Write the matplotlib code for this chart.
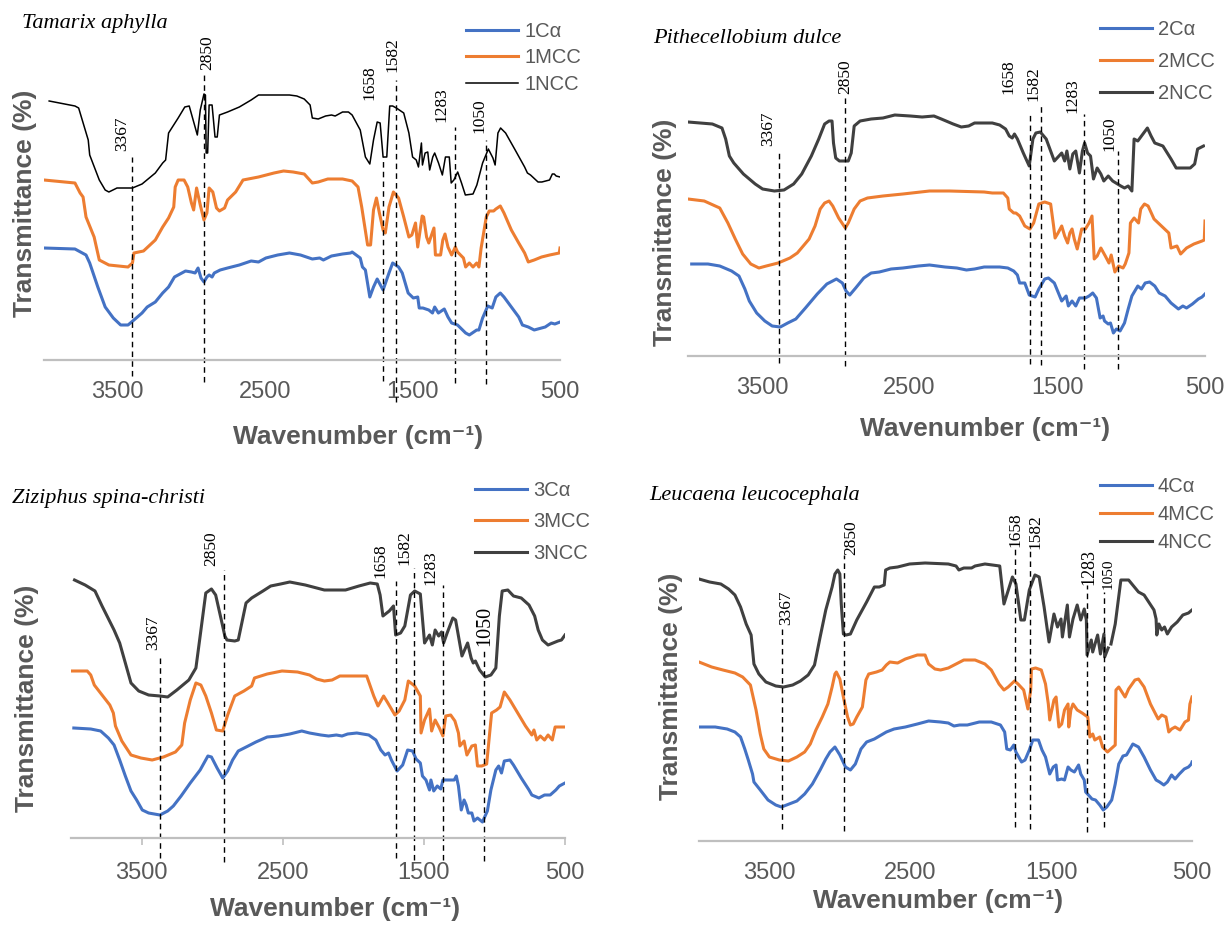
import numpy as np
import matplotlib.pyplot as plt

# =========================
# FTIR spectra of four plant sources: Cα, MCC and NCC
# =========================

W, H = 1227, 925
BLUE, ORANGE, DARK = '#4472C4', '#ED7D31', '#404040'
GREY_TXT, GREY_AX = '#595959', '#BFBFBF'

titles = ['Tamarix aphylla', 'Pithecellobium dulce',
          'Ziziphus spina-christi', 'Leucaena leucocephala']
series_names = [['1Cα', '1MCC', '1NCC'], ['2Cα', '2MCC', '2NCC'],
                ['3Cα', '3MCC', '3NCC'], ['4Cα', '4MCC', '4NCC']]
peak_labels = ['3367', '2850', '1658', '1582', '1283', '1050']
x_ticks = [3500, 2500, 1500, 500]

# ---- Panel 1: Tamarix aphylla (transmittance, arbitrary offset units)
p1_ca_wn = [4000, 3790, 3715, 3690, 3635, 3585, 3530, 3480, 3430, 3390, 3335, 3300, 3245, 3195, 3155,
            3115, 3040, 3000, 2975, 2955, 2935, 2915, 2895, 2880, 2860, 2845, 2805, 2755, 2675, 2595,
            2545, 2495, 2415, 2335, 2260, 2180, 2130, 2105, 2050, 1975, 1920, 1910, 1855, 1840, 1820,
            1790, 1765, 1740, 1700, 1660, 1635, 1595, 1570, 1530, 1495, 1465, 1455, 1430, 1390, 1365,
            1350, 1325, 1285, 1260, 1235, 1195, 1140, 1115, 1065, 1050, 1025, 990, 960, 935, 905, 880,
            830, 780, 755, 715, 675, 625, 600, 560, 535, 500]
p1_ca_t = [112, 111, 105, 97, 73, 53, 42, 35, 35, 40, 47, 53, 58, 67, 73,
           83, 89, 88, 87, 92, 82, 78, 83, 85, 83, 87, 90, 92, 95, 99,
           98, 102, 105, 107, 105, 101, 102, 100, 104, 106, 107, 108, 102, 93, 90,
           63, 73, 81, 70, 87, 97, 93, 87, 67, 62, 63, 52, 52, 50, 47,
           53, 47, 51, 43, 37, 35, 27, 25, 30, 30, 42, 54, 52, 63, 67, 63,
           53, 43, 35, 33, 30, 32, 33, 37, 36, 38]
p1_mcc_wn = [4000, 3790, 3755, 3735, 3715, 3660, 3625, 3560, 3430, 3400, 3390, 3325, 3245, 3195, 3155,
             3120, 3110, 3090, 3050, 3025, 3000, 2985, 2965, 2940, 2915, 2895, 2880, 2855, 2830, 2810,
             2775, 2755, 2700, 2650, 2545, 2440, 2375, 2310, 2235, 2180, 2140, 2075, 1975, 1910, 1870,
             1845, 1805, 1785, 1765, 1745, 1725, 1700, 1685, 1660, 1630, 1595, 1560, 1525, 1505, 1480,
             1465, 1435, 1425, 1405, 1390, 1355, 1345, 1310, 1295, 1280, 1260, 1235, 1210, 1195, 1155,
             1140, 1115, 1090, 1065, 1050, 1035, 1000, 980, 950, 935, 905, 880, 830, 780, 740, 715,
             675, 625, 570, 505, 500]
p1_mcc_t = [180, 177, 167, 163, 143, 123, 100, 95, 93, 97, 107, 109, 120, 133, 142,
            153, 173, 180, 180, 173, 157, 150, 172, 155, 140, 147, 172, 168, 152, 149,
            152, 160, 168, 180, 183, 187, 189, 188, 186, 177, 178, 181, 181, 179, 173,
            153, 115, 115, 150, 162, 147, 130, 127, 153, 168, 162, 143, 123, 125, 137,
            113, 144, 143, 123, 117, 132, 105, 105, 120, 126, 113, 105, 113, 108, 102,
            93, 97, 93, 97, 93, 112, 143, 149, 149, 151, 154, 147, 130, 117, 107, 98,
            100, 103, 105, 107, 112]
p1_ncc_wn = [3965, 3790, 3765, 3700, 3690, 3625, 3585, 3560, 3505, 3400, 3335, 3245, 3195, 3175, 3155,
             3090, 3045, 3015, 2960, 2940, 2915, 2905, 2900, 2890, 2880, 2860, 2840, 2825, 2810, 2755,
             2675, 2595, 2545, 2495, 2335, 2285, 2235, 2195, 2180, 2140, 2090, 2050, 2025, 1975, 1935,
             1910, 1855, 1820, 1790, 1765, 1740, 1720, 1700, 1675, 1655, 1635, 1610, 1560, 1525, 1500,
             1475, 1460, 1440, 1433, 1415, 1397, 1384, 1363, 1350, 1324, 1298, 1277, 1251, 1238, 1220,
             1194, 1168, 1142, 1090, 1064, 1025, 986, 955, 940, 921, 903, 869, 804, 740, 721, 700,
             649, 623, 571, 552, 539, 526, 500]
p1_ncc_t = [259, 254, 252, 220, 205, 180, 170, 168, 172, 172, 176, 187, 197, 200, 227,
            242, 253, 254, 225, 250, 266, 265, 207, 207, 255, 255, 223, 223, 245, 248,
            253, 260, 265, 265, 265, 264, 261, 255, 242, 241, 244, 245, 244, 248, 248,
            245, 230, 203, 196, 220, 238, 237, 203, 203, 254, 254, 252, 247, 227, 203,
            200, 193, 217, 195, 207, 208, 190, 203, 207, 197, 185, 203, 203, 177, 180,
            188, 177, 165, 166, 175, 197, 211, 202, 195, 227, 232, 227, 210, 193, 187, 185,
            178, 178, 180, 186, 186, 184, 183]

# ---- Panel 2: Pithecellobium dulce
p2_ca_wn = [3975, 3865, 3785, 3705, 3655, 3615, 3585, 3535, 3480, 3430, 3375, 3325, 3270, 3205, 3125,
            3060, 2995, 2955, 2930, 2905, 2865, 2810, 2760, 2705, 2625, 2545, 2440, 2365, 2260, 2180,
            2115, 2060, 1995, 1890, 1835, 1795, 1770, 1755, 1720, 1690, 1650, 1625, 1585, 1560, 1520,
            1495, 1470, 1440, 1425, 1400, 1375, 1350, 1310, 1285, 1260, 1235, 1210, 1190, 1180, 1155,
            1140, 1120, 1100, 1075, 1045, 1020, 995, 955, 930, 905, 875, 840, 810, 770, 730, 705,
            680, 650, 625, 585, 545, 520, 500]
p2_ca_t = [92, 92, 90, 85, 80, 67, 55, 43, 35, 30, 29, 33, 37, 48, 62,
           72, 77, 73, 65, 61, 68, 78, 83, 84, 87, 88, 90, 91, 89, 88,
           86, 87, 89, 89, 88, 85, 81, 73, 73, 61, 59, 67, 77, 78, 73,
           64, 55, 60, 50, 55, 50, 58, 58, 60, 63, 58, 38, 40, 35, 32,
           33, 23, 27, 25, 33, 47, 60, 70, 67, 73, 74, 70, 63, 60, 53, 50,
           47, 50, 48, 52, 57, 59, 62]
p2_mcc_wn = [4000, 3890, 3785, 3730, 3680, 3630, 3575, 3520, 3470, 3390, 3310, 3260, 3220, 3180, 3140,
             3105, 3075, 3045, 3020, 2980, 2935, 2915, 2875, 2835, 2785, 2680, 2545, 2365, 2230, 1995,
             1940, 1865, 1835, 1825, 1795, 1780, 1755, 1720, 1685, 1660, 1625, 1585, 1545, 1525, 1515,
             1495, 1470, 1450, 1430, 1415, 1400, 1385, 1365, 1335, 1310, 1285, 1265, 1250, 1230, 1205,
             1175, 1150, 1135, 1110, 1085, 1055, 1040, 1015, 1005, 980, 950, 935, 910, 885, 845, 795,
             745, 730, 690, 665, 625, 575, 520, 505, 500]
p2_mcc_t = [157, 155, 148, 133, 117, 102, 92, 88, 90, 93, 98, 103, 110, 117, 130,
            147, 153, 155, 150, 138, 128, 133, 147, 155, 158, 160, 162, 165, 165, 164,
            163, 163, 158, 147, 143, 143, 140, 130, 127, 133, 152, 154, 152, 130, 118,
            123, 130, 120, 113, 123, 127, 117, 107, 127, 127, 133, 140, 97, 100, 108,
            100, 93, 101, 84, 90, 88, 92, 103, 133, 138, 133, 147, 152, 150, 137, 130,
            123, 108, 110, 102, 108, 112, 115, 116, 135]
p2_ncc_wn = [4000, 3835, 3770, 3745, 3720, 3690, 3625, 3545, 3495, 3415, 3350, 3285, 3230, 3165, 3115,
             3075, 3045, 3025, 3015, 3000, 2975, 2915, 2895, 2875, 2835, 2760, 2680, 2600, 2495, 2415,
             2335, 2285, 2205, 2150, 2100, 2060, 1940, 1890, 1850, 1825, 1805, 1790, 1770, 1730, 1690,
             1665, 1645, 1615, 1575, 1520, 1470, 1450, 1435, 1415, 1395, 1375, 1350, 1330, 1315, 1295,
             1275, 1255, 1230, 1205, 1185, 1155, 1125, 1070, 1045, 1020, 995, 980, 955, 930, 890, 865,
             840, 785, 730, 695, 600, 570, 550, 510]
p2_ncc_t = [234, 232, 228, 217, 200, 193, 182, 172, 167, 165, 166, 172, 182, 200, 217,
            232, 235, 235, 213, 198, 195, 195, 203, 230, 235, 237, 238, 241, 240, 239,
            240, 237, 232, 229, 230, 233, 233, 231, 227, 220, 218, 222, 217, 203, 190,
            217, 223, 224, 217, 195, 203, 195, 205, 187, 202, 205, 183, 205, 213, 203,
            200, 177, 188, 182, 175, 180, 175, 170, 168, 170, 165, 217, 215, 220, 228, 220,
            213, 210, 197, 188, 188, 192, 207, 210]

# ---- Panel 3: Ziziphus spina-christi
p3_ca_wn = [3980, 3860, 3790, 3735, 3695, 3655, 3615, 3575, 3535, 3495, 3450, 3370, 3315, 3275, 3220,
            3155, 3085, 3030, 3005, 2965, 2925, 2890, 2855, 2815, 2745, 2690, 2610, 2530, 2450, 2365,
            2310, 2230, 2175, 2120, 2080, 2040, 1975, 1890, 1840, 1805, 1775, 1750, 1730, 1690, 1650,
            1615, 1580, 1555, 1525, 1510, 1485, 1460, 1450, 1430, 1405, 1380, 1365, 1325, 1285, 1270,
            1255, 1235, 1215, 1200, 1185, 1160, 1145, 1120, 1085, 1050, 1025, 990, 970, 950, 930, 890,
            865, 810, 755, 735, 685, 645, 605, 565, 540, 500]
p3_ca_t = [110, 109, 107, 100, 93, 78, 62, 47, 38, 28, 25, 23, 27, 32, 42,
           55, 68, 82, 81, 70, 60, 67, 78, 87, 92, 96, 101, 102, 104, 107,
           105, 103, 102, 103, 102, 104, 105, 103, 98, 88, 83, 85, 78, 67, 73,
           88, 87, 79, 75, 62, 58, 48, 58, 47, 52, 49, 58, 58, 58, 62,
           52, 28, 38, 33, 25, 25, 17, 20, 16, 27, 48, 68, 72, 65, 77, 78,
           73, 60, 48, 43, 40, 43, 43, 48, 52, 55]
p3_mcc_wn = [4000, 3885, 3860, 3835, 3780, 3725, 3700, 3685, 3640, 3575, 3505, 3425, 3345, 3260, 3215,
             3195, 3155, 3115, 3080, 3045, 3005, 2970, 2925, 2890, 2840, 2775, 2720, 2700, 2610, 2505,
             2395, 2310, 2260, 2205, 2150, 2095, 1905, 1880, 1855, 1825, 1785, 1755, 1705, 1675, 1635,
             1610, 1565, 1525, 1520, 1495, 1460, 1445, 1420, 1390, 1365, 1345, 1310, 1280, 1255, 1245,
             1215, 1195, 1160, 1135, 1120, 1090, 1055, 1020, 985, 960, 930, 890, 835, 780, 735, 720,
             700, 675, 645, 620, 590, 570, 500]
p3_mcc_t = [167, 167, 163, 153, 143, 133, 125, 112, 97, 83, 80, 78, 81, 86, 93,
            115, 138, 155, 153, 142, 125, 108, 107, 123, 142, 147, 152, 160, 164, 167,
            166, 163, 159, 157, 158, 162, 162, 152, 142, 132, 142, 135, 123, 127, 138,
            157, 152, 142, 105, 118, 129, 107, 118, 110, 102, 122, 123, 117, 105, 92,
            97, 83, 92, 93, 72, 72, 74, 125, 128, 131, 146, 138, 125, 112, 103, 108,
            98, 102, 98, 103, 98, 111, 111]
p3_ncc_wn = [3975, 3900, 3830, 3780, 3695, 3655, 3615, 3575, 3520, 3450, 3370, 3315, 3250, 3165, 3115,
             3085, 3045, 3005, 2975, 2935, 2910, 2895, 2840, 2815, 2760, 2720, 2640, 2585, 2515, 2450,
             2340, 2205, 2055, 1960, 1880, 1830, 1810, 1790, 1745, 1715, 1700, 1665, 1635, 1595, 1565,
             1525, 1495, 1460, 1440, 1420, 1395, 1375, 1360, 1335, 1295, 1275, 1255, 1230, 1190, 1165,
             1150, 1135, 1105, 1065, 1025, 990, 965, 945, 905, 865, 810, 755, 715, 690, 660, 620,
             585, 550, 525, 500]
p3_ncc_t = [258, 253, 247, 232, 208, 195, 175, 155, 147, 143, 142, 141, 148, 158, 170,
            202, 245, 249, 243, 218, 202, 198, 197, 198, 235, 240, 247, 252, 254, 256,
            253, 248, 248, 252, 255, 254, 243, 222, 227, 232, 203, 205, 212, 243, 247,
            244, 195, 203, 193, 208, 202, 206, 195, 205, 220, 218, 202, 182, 195, 180,
            175, 177, 168, 161, 163, 170, 222, 247, 248, 242, 240, 233, 222, 208, 198, 193,
            195, 197, 198, 203]

# ---- Panel 4: Leucaena leucocephala
p4_ca_wn = [4000, 3885, 3800, 3745, 3705, 3675, 3650, 3620, 3610, 3565, 3510, 3455, 3415, 3360, 3305,
            3250, 3195, 3140, 3100, 3070, 3035, 3000, 2960, 2925, 2890, 2850, 2810, 2755, 2670, 2615,
            2535, 2450, 2370, 2285, 2230, 2190, 2150, 2095, 2010, 1925, 1860, 1830, 1815, 1790, 1765,
            1750, 1710, 1685, 1655, 1630, 1590, 1565, 1540, 1510, 1485, 1465, 1455, 1425, 1405, 1380,
            1360, 1335, 1305, 1290, 1265, 1255, 1235, 1210, 1185, 1155, 1130, 1105, 1070, 1045, 1020,
            990, 965, 940, 920, 880, 840, 795, 755, 730, 700, 675, 645, 620, 590, 555, 525, 505, 500]
p4_ca_t = [114, 114, 112, 109, 104, 92, 81, 67, 59, 51, 41, 36, 34, 37, 40,
           47, 57, 71, 82, 89, 94, 86, 74, 71, 77, 92, 99, 102, 109, 112,
           114, 117, 120, 119, 118, 115, 116, 116, 119, 119, 116, 109, 92, 91, 96,
           89, 79, 81, 91, 101, 101, 91, 84, 67, 74, 76, 61, 62, 61, 74,
           71, 69, 76, 67, 61, 49, 46, 42, 41, 36, 31, 34, 41, 57, 77,
           85, 86, 92, 97, 94, 84, 71, 61, 59, 56, 59, 66, 62, 67, 72, 74, 77, 79]
p4_mcc_wn = [4000, 3910, 3830, 3745, 3690, 3635, 3595, 3565, 3540, 3500, 3430, 3365, 3305, 3250, 3210,
             3170, 3125, 3085, 3055, 3035, 3025, 3000, 2975, 2945, 2925, 2905, 2880, 2840, 2815, 2795,
             2740, 2700, 2670, 2645, 2590, 2535, 2450, 2395, 2370, 2325, 2285, 2230, 2175, 2120, 2040,
             1970, 1925, 1870, 1835, 1805, 1760, 1735, 1695, 1665, 1645, 1640, 1610, 1570, 1540, 1520,
             1510, 1480, 1465, 1445, 1425, 1405, 1380, 1375, 1360, 1345, 1315, 1280, 1240, 1225, 1205,
             1190, 1155, 1135, 1100, 1045, 1040, 1020, 975, 950, 905, 880, 840, 795, 755, 740, 715,
             685, 665, 645, 620, 585, 550, 525, 515, 500]
p4_mcc_t = [179, 174, 171, 168, 164, 156, 131, 107, 92, 84, 81, 80, 84, 89, 97,
            111, 124, 137, 154, 167, 169, 162, 144, 124, 116, 117, 124, 134, 161, 167,
            169, 171, 176, 179, 178, 182, 186, 186, 177, 172, 171, 173, 177, 181, 181,
            177, 171, 157, 151, 154, 160, 157, 151, 132, 151, 172, 173, 171, 157, 137,
            121, 141, 144, 114, 117, 131, 137, 114, 131, 137, 131, 128, 124, 104, 107,
            101, 104, 94, 89, 96, 151, 154, 144, 152, 161, 162, 154, 137, 126, 122, 126,
            124, 109, 112, 114, 111, 119, 121, 137, 144]
# the NCC trace of panel 4 is broken near 1090 cm-1 (gap kept as NaN)
p4_ncc_wn = [4000, 3925, 3845, 3790, 3745, 3705, 3665, 3630, 3610, 3575, 3525, 3455, 3400, 3335, 3280,
             3225, 3180, 3140, 3100, 3055, 3035, 3015, 3000, 2990, 2975, 2955, 2925, 2880, 2810, 2755,
             2720, 2685, 2675, 2645, 2590, 2505, 2395, 2230, 2175, 2155, 2120, 2065, 2040, 1970, 1865,
             1835, 1775, 1750, 1715, 1690, 1655, 1615, 1585, 1550, 1515, 1480, 1455, 1430, 1420, 1385,
             1370, 1345, 1315, 1290, 1265, 1250, 1245, 1215, 1205, 1170, 1150, 1125, 1120, 1095, 1085,
             1075, 1045, 1005, 950, 880, 840, 770, 755, 750, 735, 715, 695, 675, 645, 605, 565, 525, 500]
p4_ncc_t = [262, 259, 257, 252, 246, 234, 217, 206, 177, 167, 159, 155, 154, 156, 160,
            166, 176, 204, 231, 254, 267, 271, 267, 237, 207, 206, 207, 221, 239, 254,
            254, 256, 271, 273, 274, 277, 278, 277, 275, 271, 273, 273, 275, 277, 275,
            237, 264, 257, 221, 221, 251, 266, 264, 234, 199, 227, 214, 222, 204, 236,
            204, 222, 236, 221, 232, 221, 186, 201, 189, 206, 187, 207, 184, 193, np.nan,
            197, 217, 261, 261, 249, 246, 231, 222, 206, 217, 211, 214, 207, 214, 219, 226, 228, 231]

# ---- peak marker lines per panel: wavenumber, top / bottom (same units as curves), label anchor
p1_mark_wn = [3400, 2915, 1700, 1612, 1210, 1005]
p1_mark_top = [203, 288, 203, 280, 233, 220]
p1_mark_bot = [-16, -22, -21, -42, -23, -24]
p1_lab_wn = [3470, 2895, 1790, 1635, 1305, 1045]
p1_lab_y = [209, 290, 260, 288, 238, 227]

p2_mark_wn = [3383, 2938, 1683, 1608, 1320, 1092]
p2_mark_top = [203, 260, 242, 253, 242, 205]
p2_mark_bot = [-7, -10, -8, -9, -13, -13]
p2_lab_wn = [3455, 2935, 1830, 1660, 1395, 1145]
p2_lab_y = [210, 262, 262, 255, 243, 205]

p3_mark_wn = [3366, 2917, 1695, 1567, 1367, 1076]
p3_mark_top = [182, 268, 257, 270, 253, 187]
p3_mark_bot = [-20, -24, -20, -22, -22, -23]
p3_lab_wn = [3415, 3005, 1805, 1640, 1450, 1070]
p3_lab_y = [188, 272, 260, 273, 253, 192]

p4_mark_wn = [3413, 2973, 1755, 1647, 1247, 1128]
p4_mark_top = [214, 286, 294, 291, 256, 249]
p4_mark_bot = [12, 10, 14, 12, 9, 14]
p4_lab_wn = [3380, 2920, 1750, 1610, 1235, 1095]
p4_lab_y = [216, 286, 294, 292, 256, 252]

panels = [
    dict(ca=(p1_ca_wn, p1_ca_t), mcc=(p1_mcc_wn, p1_mcc_t), ncc=(p1_ncc_wn, p1_ncc_t),
         mark=(p1_mark_wn, p1_mark_top, p1_mark_bot, p1_lab_wn, p1_lab_y),
         box=(44, 560, 360, 350), ticks=False, ncc_color='black', ncc_lw=1.1,
         title_xy=(22, 28), leg_xy=(466, 22), leg_sp=0.37,
         ylab_xy=(25, 203), xlab_xy=(358, 437), lab_fs=[12.5] * 6),
    dict(ca=(p2_ca_wn, p2_ca_t), mcc=(p2_mcc_wn, p2_mcc_t), ncc=(p2_ncc_wn, p2_ncc_t),
         mark=(p2_mark_wn, p2_mark_top, p2_mark_bot, p2_lab_wn, p2_lab_y),
         box=(688, 1205, 356, 350), ticks=False, ncc_color=DARK, ncc_lw=2.2,
         title_xy=(653, 43), leg_xy=(1100, 20), leg_sp=0.64,
         ylab_xy=(665, 232), xlab_xy=(985, 429), lab_fs=[12.5] * 6),
    dict(ca=(p3_ca_wn, p3_ca_t), mcc=(p3_mcc_wn, p3_mcc_t), ncc=(p3_ncc_wn, p3_ncc_t),
         mark=(p3_mark_wn, p3_mark_top, p3_mark_bot, p3_lab_wn, p3_lab_y),
         box=(71, 565, 838, 360), ticks=True, ncc_color=DARK, ncc_lw=2.2,
         title_xy=(12, 503), leg_xy=(475, 481), leg_sp=0.62,
         ylab_xy=(27, 698), xlab_xy=(335, 909), lab_fs=[12.5] * 5 + [14.5]),
    dict(ca=(p4_ca_wn, p4_ca_t), mcc=(p4_mcc_wn, p4_mcc_t), ncc=(p4_ncc_wn, p4_ncc_t),
         mark=(p4_mark_wn, p4_mark_top, p4_mark_bot, p4_lab_wn, p4_lab_y),
         box=(699, 1192, 841, 360), ticks=False, ncc_color=DARK, ncc_lw=2.2,
         title_xy=(649, 500), leg_xy=(1100, 477), leg_sp=0.44,
         ylab_xy=(671, 686), xlab_xy=(938, 901), lab_fs=[12.5, 12.5, 12.5, 12.5, 13, 11]),
]

fig = plt.figure(figsize=(W / 100, H / 100), dpi=100)

for i, p in enumerate(panels):
    left, right, base, height = p['box']
    ax = fig.add_axes([left / W, 1 - base / H, (right - left) / W, height / H])
    ax.patch.set_alpha(0)

    l1, = ax.plot(*p['ca'], color=BLUE, lw=2.2, solid_joinstyle='round')
    l2, = ax.plot(*p['mcc'], color=ORANGE, lw=2.2, solid_joinstyle='round')
    l3, = ax.plot(*p['ncc'], color=p['ncc_color'], lw=p['ncc_lw'], solid_joinstyle='round')

    # dashed peak markers with their rotated labels
    mwn, mtop, mbot, lwn, ly = p['mark']
    for k in range(len(mwn)):
        ax.plot([mwn[k], mwn[k]], [mbot[k], mtop[k]], color='black', lw=1.0,
                ls=(0, (4, 3)), clip_on=False)
        ax.text(lwn[k], ly[k], peak_labels[k], rotation=90, ha='center', va='bottom',
                fontsize=p['lab_fs'][k], family='Liberation Serif', color='black',
                clip_on=False)

    ax.set_xlim(4000, 500)
    ax.set_ylim(0, height)
    ax.set_xticks(x_ticks)
    ax.set_xticklabels([str(t) for t in x_ticks])
    ax.set_yticks([])
    for s in ['top', 'right', 'left']:
        ax.spines[s].set_visible(False)
    ax.spines['bottom'].set_color(GREY_AX)
    ax.spines['bottom'].set_linewidth(1.6)
    if p['ticks']:
        ax.tick_params(axis='x', length=5, width=1.2, color=GREY_AX, pad=12,
                       labelsize=17, labelcolor=GREY_TXT)
    else:
        ax.tick_params(axis='x', length=0, pad=15, labelsize=17, labelcolor=GREY_TXT)
    for t in ax.get_xticklabels():
        t.set_family('Liberation Sans')

    leg = ax.legend([l1, l2, l3], series_names[i], loc='upper left',
                    bbox_to_anchor=(p['leg_xy'][0] / W, 1 - p['leg_xy'][1] / H),
                    bbox_transform=fig.transFigure, frameon=False, borderpad=0,
                    borderaxespad=0, handlelength=2.6, handletextpad=0.28,
                    labelspacing=p['leg_sp'], prop={'family': 'Liberation Sans', 'size': 14.5})
    for t in leg.get_texts():
        t.set_color(GREY_TXT)

    fig.text(p['title_xy'][0] / W, 1 - p['title_xy'][1] / H, titles[i], ha='left',
             va='baseline', fontsize=16, style='italic', family='Liberation Serif')
    fig.text(p['ylab_xy'][0] / W, 1 - p['ylab_xy'][1] / H, 'Transmittance (%)',
             rotation=90, ha='center', va='center', fontsize=19, fontweight='bold',
             color=GREY_TXT, family='Liberation Sans')
    fig.text(p['xlab_xy'][0] / W, 1 - p['xlab_xy'][1] / H, 'Wavenumber (cm⁻¹)',
             ha='center', va='center', fontsize=19, fontweight='bold',
             color=GREY_TXT, family=['Liberation Sans', 'DejaVu Sans'])

plt.savefig('out.png', dpi=100)
